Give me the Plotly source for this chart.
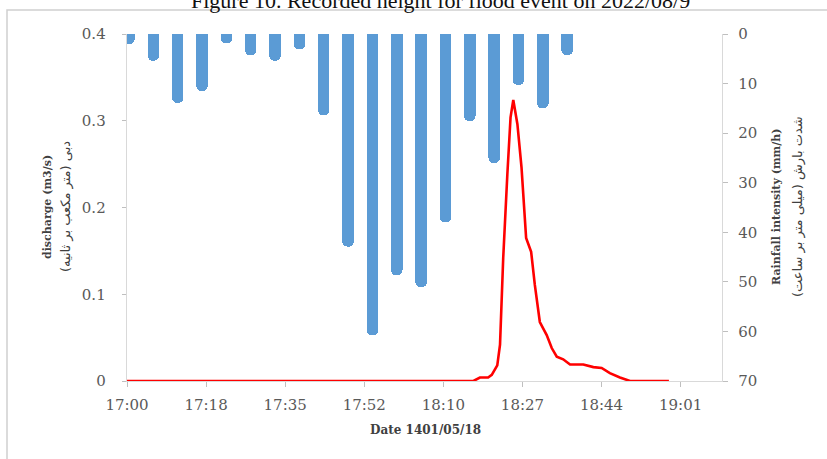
import plotly.graph_objects as go

# ---------------- data ----------------
# Rainfall intensity (mm/h), one bar per interval
rain_time = ["17:00", "17:05", "17:10", "17:15", "17:20", "17:25", "17:30", "17:35",
             "17:40", "17:45", "17:50", "17:55", "18:00", "18:05", "18:10", "18:15",
             "18:20", "18:25", "18:30"]
rain_mmh = [2.0, 5.4, 13.9, 11.5, 1.9, 4.3, 5.4, 3.1, 16.4, 42.9, 60.8, 48.7,
            51.1, 38.0, 17.6, 26.0, 10.3, 15.0, 4.3]

# Discharge (m3/s), minutes after 17:00
q_minutes = [0, 75.7, 77.1, 78.9, 79.7, 80.9, 81.5, 82.2, 83.1, 83.8, 84.4, 85.3,
             86.2, 87.2, 88.3, 89.1, 90.2, 91.7, 92.8, 93.9, 95.3, 96.8, 99.7,
             101.9, 103.7, 105.5, 107.7, 109.9, 118.4]
q_m3s = [0, 0, 0.004, 0.004, 0.007, 0.018, 0.042, 0.142, 0.238, 0.304, 0.324, 0.296,
         0.246, 0.165, 0.149, 0.111, 0.068, 0.053, 0.038, 0.028, 0.025, 0.019, 0.019,
         0.016, 0.015, 0.009, 0.004, 0.0, 0.0]

x_tick_minutes = [0, 17.28, 34.56, 51.84, 69.12, 86.4, 103.68, 120.96]
x_tick_labels = ["17:00", "17:18", "17:35", "17:52", "18:10", "18:27", "18:44", "19:01"]
q_ticks = [0, 0.1, 0.2, 0.3, 0.4]
q_tick_labels = ["0", "0.1", "0.2", "0.3", "0.4"]
rain_ticks = [0, 10, 20, 30, 40, 50, 60, 70]

title_text = "Figure 10. Recorded height for flood event on 2022/08/9"
x_title = "Date 1401/05/18"
left_title_en = "discharge (m3/s)"
left_title_fa = "دبی (متر مکعب بر ثانیه)"
right_title_en = "Rainfall intensity (mm/h)"
right_title_fa = "شدت بارش (میلی متر بر ساعت)"

# ---------------- layout geometry ----------------
W, H = 827, 459
L, R, T, B = 127, 105, 34, 78
PW, PH = W - L - R, H - T - B


def px(x):
    return (x - L) / PW


def py(y):
    return (H - B - y) / PH


def to_min(s):
    h, m = s.split(":")
    return (int(h) - 17) * 60 + int(m)


rain_x = [to_min(s) for s in rain_time]

AX = "#d9d9d9"
TK = "#bfbfbf"
LBL = "#595959"
TF = dict(family="DejaVu Serif", size=15, color=LBL)

fig = go.Figure()
fig.add_trace(go.Bar(
    x=rain_x, y=rain_mmh, xaxis="x", yaxis="y",
    width=2.36, marker=dict(color="#5B9BD5", cornerradius="50%", line=dict(width=0)),
    showlegend=False, hoverinfo="skip",
))
fig.add_trace(go.Scatter(
    x=q_minutes, y=q_m3s, xaxis="x2", yaxis="y2", mode="lines",
    line=dict(color="#FF0000", width=2.6), showlegend=False, hoverinfo="skip",
))

fig.update_layout(
    width=W, height=H,
    margin=dict(l=L, r=R, t=T, b=B, pad=0),
    paper_bgcolor="white", plot_bgcolor="white",
    bargap=0,
    xaxis=dict(range=[-0.41, 121.8], visible=False, fixedrange=True),
    yaxis=dict(range=[70, 0], side="right", tickvals=rain_ticks,
               showline=True, linecolor=AX, linewidth=1.3,
               ticks="outside", ticklen=5, tickcolor=TK, tickwidth=1,
               ticklabelstandoff=7, tickfont=TF, showgrid=False, zeroline=False),
    xaxis2=dict(range=[0, 130], overlaying="x", side="bottom",
                tickvals=x_tick_minutes, ticktext=x_tick_labels,
                showline=True, linecolor=AX, linewidth=1.3,
                ticks="outside", ticklen=5, tickcolor=TK, tickwidth=1,
                ticklabelstandoff=5, tickfont=TF, showgrid=False, zeroline=False),
    yaxis2=dict(range=[0, 0.4], overlaying="y", side="left",
                tickvals=q_ticks, ticktext=q_tick_labels,
                showline=True, linecolor=AX, linewidth=1.3,
                ticks="outside", ticklen=4, tickcolor=TK, tickwidth=1,
                ticklabelstandoff=13, tickfont=TF, showgrid=False, zeroline=False),
    shapes=[dict(type="rect", xref="paper", yref="paper",
                 x0=px(7), y0=py(10), x1=px(845), y1=py(480),
                 line=dict(color="#d0d0d0", width=1.5), layer="below")],
)

ann_title = dict(family="DejaVu Serif", size=11, color="#404040", weight="bold")
ann_fa = dict(family="DejaVu Sans", size=13, color="#404040")
fig.add_annotation(x=px(440), y=py(0.5), xref="paper", yref="paper", text=title_text,
                   showarrow=False, xanchor="center", yanchor="middle",
                   font=dict(family="Liberation Serif", size=22, color="#111111"))
fig.add_annotation(x=px(425), y=py(430), xref="paper", yref="paper", text=x_title,
                   showarrow=False, xanchor="center", yanchor="middle",
                   font=dict(family="DejaVu Serif", size=12, color="#404040", weight="bold"))
fig.add_annotation(x=px(47), y=py(207), xref="paper", yref="paper", text=left_title_en,
                   showarrow=False, textangle=-90, xanchor="center", yanchor="middle",
                   font=ann_title)
fig.add_annotation(x=px(66), y=py(207), xref="paper", yref="paper", text=left_title_fa,
                   showarrow=False, textangle=-90, xanchor="center", yanchor="middle",
                   font=ann_fa)
fig.add_annotation(x=px(776), y=py(207), xref="paper", yref="paper", text=right_title_en,
                   showarrow=False, textangle=-90, xanchor="center", yanchor="middle",
                   font=ann_title)
fig.add_annotation(x=px(798), y=py(207), xref="paper", yref="paper", text=right_title_fa,
                   showarrow=False, textangle=-90, xanchor="center", yanchor="middle",
                   font=ann_fa)

fig.write_html("out.html",
               config={"displayModeBar": False, "staticPlot": True},
               post_script="document.body.style.margin='0';document.body.style.overflow='hidden';")
